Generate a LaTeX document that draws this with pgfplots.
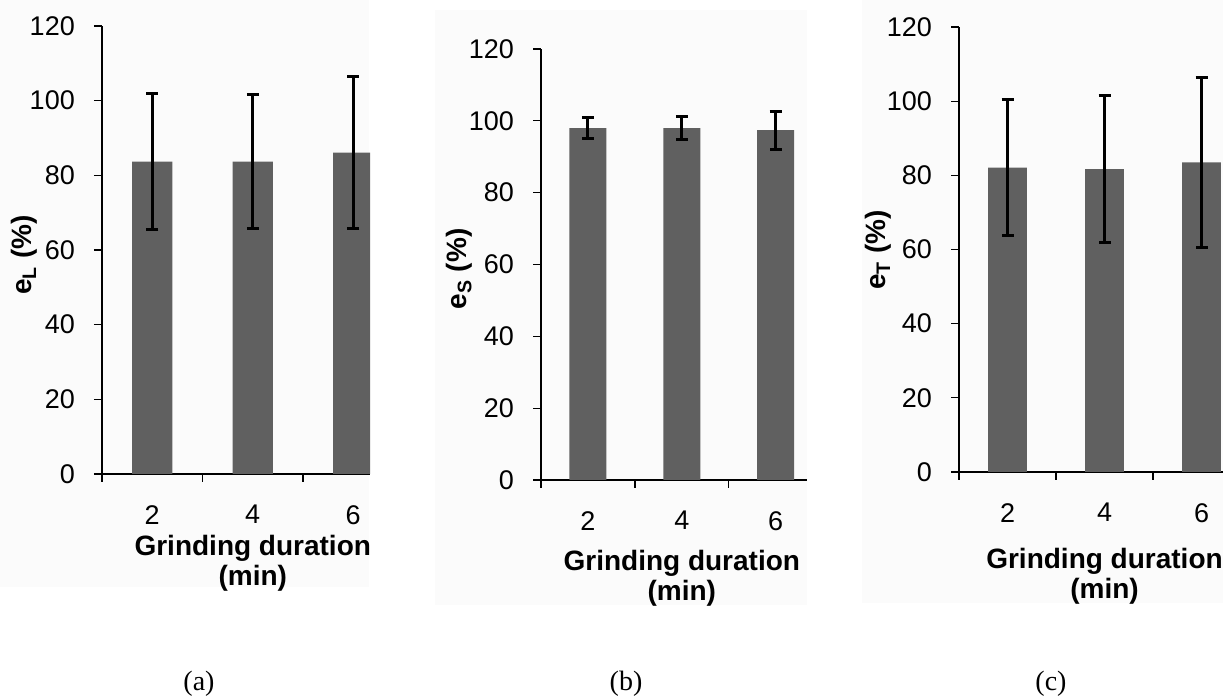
\documentclass[border=0pt]{standalone}
\usepackage{fontspec}
\setmainfont{Liberation Sans}
\newfontfamily\timesfont{Liberation Serif}
\usepackage{pgfplots}
\pgfplotsset{compat=1.18}
\definecolor{barcol}{RGB}{96,96,96}
\definecolor{panelbg}{RGB}{251,251,251}

\pgfplotsset{
  panel/.style={
    scale only axis,
    anchor=south west,
    axis lines=left,
    axis line style={-, line width=1.3pt, black},
    every tick/.append style={line width=1.3pt, black},
    tick align=outside,
    major tick length=8pt,
    minor tick length=8pt,
    ymin=0, ymax=120,
    ytick={0,20,...,120},
    xmin=0.5,
    xtick={1,2,3},
    xticklabels={2,4,6},
    minor xtick={0.5,1.5,2.5},
    major x tick style={draw=none},
    /pgf/number format/assume math mode=true,
    tick label style={font=\fontsize{27}{27}\selectfont, inner sep=0pt},
    xticklabel style={anchor=north, yshift=-23pt},
    yticklabel style={anchor=east, xshift=-19pt},
    label style={font=\bfseries\fontsize{28}{30}\selectfont, inner sep=0pt},
    xlabel={Grinding duration\\(min)},
    x label style={align=center, anchor=north},
    y label style={anchor=center},
  },
  barstyle/.style={ybar, bar width=#1, fill=barcol, draw=none,
    error bars/.cd, y dir=both, y explicit,
    error bar style={line width=3pt, draw=black},
    error mark options={rotate=90, line width=3pt, draw=black, mark size=6pt}},
  barstyle/.default=0.4,
}

\pgfplotstableread{
x y e
1 83.7 18.1
2 83.7 17.9
3 86.1 20.4
}\dataA
\pgfplotstableread{
x y e
1 98.0 2.9
2 98.0 3.3
3 97.4 5.3
}\dataB
\pgfplotstableread{
x y e
1 82.1 18.4
2 81.7 19.7
3 83.5 22.9
}\dataC

\begin{document}
\begin{tikzpicture}
\path[use as bounding box] (0pt,0pt) rectangle (1223pt,698pt);
\clip (0pt,0pt) rectangle (1223pt,698pt);
\fill[panelbg] (0pt,111pt) rectangle (369pt,698pt);
\fill[panelbg] (435pt,93pt) rectangle (807pt,688pt);
\fill[panelbg] (862pt,95pt) rectangle (1223pt,698pt);

\begin{axis}[panel, at={(102pt,224pt)}, width=268pt, height=448pt, xmax=3.1667,
  ylabel={e\textsubscript{L} (\%)},
  x label style={at={(axis description cs:0.5625,0)}, yshift=-61pt},
  y label style={at={(axis description cs:-0.291,0.489)}}]
\addplot[barstyle] table[x=x, y=y, y error=e] {\dataA};
\end{axis}

\begin{axis}[panel, at={(541pt,218pt)}, width=266pt, height=431pt, xmax=3.334,
  ylabel={e\textsubscript{S} (\%)},
  x label style={at={(axis description cs:0.5293,0)}, yshift=-70pt},
  y label style={at={(axis description cs:-0.308,0.49)}}]
\addplot[barstyle=0.394] table[x=x, y=y, y error=e] {\dataB};
\end{axis}

\begin{axis}[panel, at={(959pt,226pt)}, width=270pt, height=445pt, xmax=3.2835,
  ylabel={e\textsubscript{T} (\%)},
  x label style={at={(axis description cs:0.5389,0)}, yshift=-76pt},
  y label style={at={(axis description cs:-0.3,0.499)}}]
\addplot[barstyle] table[x=x, y=y, y error=e] {\dataC};
\end{axis}

\node[font=\timesfont\fontsize{28}{28}\selectfont] at (199pt,14pt) {(a)};
\node[font=\timesfont\fontsize{28}{28}\selectfont] at (626pt,14pt) {(b)};
\node[font=\timesfont\fontsize{28}{28}\selectfont] at (1051pt,14pt) {(c)};
\end{tikzpicture}
\end{document}
